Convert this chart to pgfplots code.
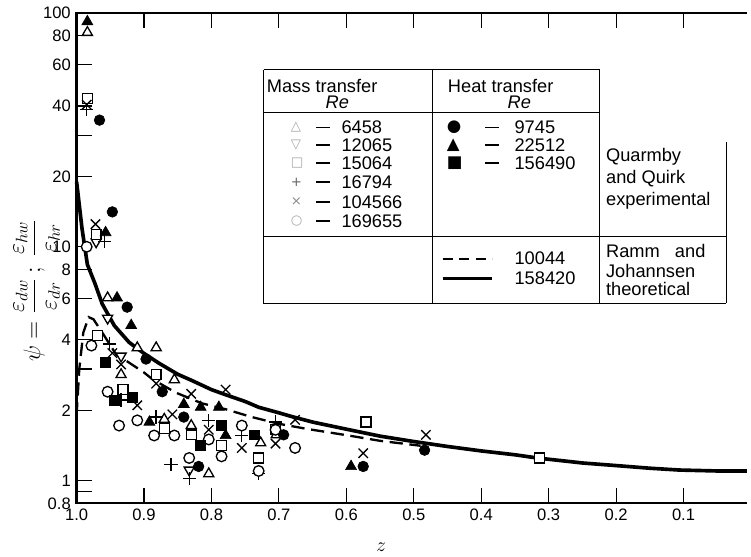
\documentclass[border=0pt]{standalone}
\usepackage{pgfplots}
\pgfplotsset{compat=1.18}
\usepackage{fontspec}
\setmainfont{Liberation Sans}
\newfontfamily\symfont{DejaVu Sans}

% scatter data (z, psi), one table per Re
\pgfplotstableread{
z psi
0.984 82.5
0.954 6.05
0.910 3.70
0.882 3.70
0.855 2.70
0.934 2.84
0.870 1.83
0.830 1.72
0.804 1.07
0.727 1.45
0.704 1.57
}\mtA
\pgfplotstableread{
z psi
0.971 10.5
0.954 4.95
0.934 3.41
0.833 1.11
}\mtB
\pgfplotstableread{
z psi
0.984 43.0
0.971 11.3
0.969 4.17
0.882 2.84
0.931 2.45
0.870 1.67
0.830 1.57
0.785 1.41
0.730 1.25
0.705 1.65
0.571 1.78
0.314 1.25
}\mtC
\pgfplotstableread{
z psi
0.985 38.7
0.959 10.5
0.951 3.84
0.934 2.21
0.882 1.87
0.860 1.17
0.833 1.02
0.804 1.81
0.755 1.56
0.705 1.78
0.730 1.07
}\mtD
\pgfplotstableread{
z psi
0.985 40.5
0.972 12.5
0.947 3.51
0.934 3.14
0.882 2.60
0.910 2.10
0.858 1.92
0.830 2.35
0.804 1.65
0.755 1.38
0.705 1.44
0.676 1.82
0.779 2.45
0.482 1.57
0.575 1.31
}\mtE
\pgfplotstableread{
z psi
0.985 10.0
0.978 3.78
0.954 2.40
0.937 1.72
0.910 1.81
0.885 1.56
0.855 1.56
0.804 1.50
0.833 1.25
0.785 1.27
0.755 1.72
0.730 1.10
0.705 1.65
0.676 1.38
}\mtF
\pgfplotstableread{
z psi
0.966 34.8
0.947 14.1
0.925 5.52
0.897 3.31
0.873 2.40
0.841 1.87
0.819 1.15
0.693 1.57
0.484 1.35
0.575 1.15
}\htA
\pgfplotstableread{
z psi
0.984 91.8
0.957 11.5
0.940 6.05
0.919 4.61
0.892 1.78
0.841 2.12
0.816 2.06
0.789 2.06
0.779 1.56
0.593 1.15
}\htB
\pgfplotstableread{
z psi
0.957 3.21
0.944 2.21
0.917 2.27
0.816 1.41
0.786 1.72
0.737 1.57
}\htC

\begin{document}
\begin{tikzpicture}
% pixel frame of the reference: (px,py), origin top left
\begin{scope}[x=0.6pt,y=-0.6pt,shift={(-46.2pt,303.6pt)}]
\useasboundingbox (0,0) rectangle (751,559);
\end{scope}

\begin{axis}[
  at={(0,0)}, anchor=south west,
  scale only axis, width=406.8pt, height=295.8pt,
  x dir=reverse, xmin=0, xmax=1,
  ymode=log, ymin=0.8, ymax=100,
  axis line style={draw=none},
  xtick pos=both, ytick pos=left,
  xtick={0.1,0.2,0.3,0.4,0.5,0.6,0.7,0.8,0.9,1.0},
  xticklabels={0.1,0.2,0.3,0.4,0.5,0.6,0.7,0.8,0.9,1.0},
  ytick={0.8,1,2,4,6,8,10,20,40,60,80,100},
  yticklabels={0.8,1,2,4,6,8,10,20,40,60,80,100},
  extra y ticks={0.9,3,30}, extra y tick labels={},
  minor ytick={},
  major tick length=9pt,
  major tick style={draw=black, line width=0.7pt},
  tick label style={font=\fontsize{10}{11}\selectfont},
  /pgf/number format/assume math mode=true,
  clip=false,
]
  \addplot[line width=2.2pt] coordinates {
    (1.0,19) (0.992,12) (0.984,8.4) (0.973,7.0) (0.962,5.7) (0.944,4.6)
    (0.922,3.9) (0.90,3.5) (0.878,3.18) (0.85,2.85) (0.829,2.68) (0.80,2.45)
    (0.779,2.33) (0.75,2.18) (0.73,2.06) (0.70,1.95) (0.681,1.88) (0.65,1.78)
    (0.60,1.66) (0.55,1.55) (0.50,1.47) (0.45,1.40) (0.40,1.34) (0.35,1.29)
    (0.317,1.25) (0.25,1.19) (0.20,1.16) (0.15,1.13) (0.106,1.11) (0.05,1.10)
    (0.006,1.10)};
  \addplot[line width=1.4pt, dash pattern=on 8pt off 4pt] coordinates {
    (1.0,1.9) (0.996,3.0) (0.99,4.3) (0.982,5.0) (0.975,4.9) (0.962,4.3)
    (0.941,3.45) (0.926,3.25) (0.90,2.9) (0.888,2.72) (0.853,2.38) (0.814,2.14)
    (0.779,2.02) (0.74,1.87) (0.70,1.75) (0.656,1.66) (0.597,1.56) (0.55,1.48)
    (0.49,1.41)};

  \addplot[only marks, mark=triangle*, mark size=3.5pt, mark options={fill=white, line width=0.8pt}] table {\mtA};
  \addplot[only marks, mark=triangle*, mark size=3.5pt, mark options={rotate=180, fill=white, line width=0.8pt}] table {\mtB};
  \addplot[only marks, mark=square*, mark size=3pt, mark options={fill=white, line width=0.8pt}] table {\mtC};
  \addplot[only marks, mark=+, mark size=4pt, mark options={line width=0.8pt}] table {\mtD};
  \addplot[only marks, mark=x, mark size=4pt, mark options={line width=0.8pt}] table {\mtE};
  \addplot[only marks, mark=*, mark size=3.2pt, mark options={fill=white, line width=0.8pt}] table {\mtF};
  \addplot[only marks, mark=*, mark size=3.2pt, fill=black] table {\htA};
  \addplot[only marks, mark=triangle*, mark size=3.8pt, fill=black] table {\htB};
  \addplot[only marks, mark=square*, mark size=3pt, fill=black] table {\htC};
\end{axis}

\begin{scope}[x=0.6pt,y=-0.6pt,shift={(-46.2pt,303.6pt)}]
  % frame: left, bottom, top (no right edge)
  \draw[line width=1.4pt] (751,13) -- (77,13) -- (77,506) -- (751,506);
  % axis labels
  \node[rotate=90] at (37,292) {\fontsize{14}{16}\selectfont
    $\psi = \displaystyle\frac{\varepsilon_{dw}}{\varepsilon_{dr}}\,;\ \frac{\varepsilon_{hw}}{\varepsilon_{hr}}$};
  \node at (383,550) {\fontsize{13}{15}\selectfont $z$};

  % legend table
  \begin{scope}[line width=0.5pt]
    \draw (265,70) -- (603,70);
    \draw (265,70) -- (265,305) -- (730,305);
    \draw (435,70) -- (435,305);
    \draw (603,70) -- (603,305);
    \draw (730,143) -- (730,305);
    \draw (265,113) -- (603,113);
    \draw (265,238) -- (730,238);
  \end{scope}
  \begin{scope}[every node/.style={anchor=west, inner sep=0pt, font=\fontsize{11}{13}\selectfont}]
    \node at (268,86) {Mass transfer};
    \node at (327,103) {\textit{Re}};
    \node at (450,86) {Heat transfer};
    \node at (510,103) {\textit{Re}};
    % mass transfer rows
    \node[text=black!35] at (292,128) {\symfont\fontsize{8}{9}\selectfont △};
    \node[text=black!35] at (292,146) {\symfont\fontsize{8}{9}\selectfont ▽};
    \node[text=black!35] at (292,164) {\symfont\fontsize{8}{9}\selectfont □};
    \node[text=black!60] at (292,183) {\symfont\fontsize{8}{9}\selectfont +};
    \node[text=black!45] at (292,203) {\symfont\fontsize{8}{9}\selectfont ×};
    \node[text=black!35] at (292,222) {\symfont\fontsize{8}{9}\selectfont ○};
    \foreach \yy/\re in {128/6458,146/12065,164/15064,183/16794,203/104566,222/169655}{
      \draw[line width=0.9pt] (318,\yy) -- (332,\yy);
      \node at (343,\yy) {\re};
    }
    % heat transfer rows
    \node at (449,128) {\symfont\fontsize{10}{11}\selectfont ●};
    \node at (449,146) {\symfont\fontsize{10}{11}\selectfont ▲};
    \node at (449,164) {\symfont\fontsize{10}{11}\selectfont ■};
    \foreach \yy/\re in {128/9745,146/22512,164/156490}{
      \draw[line width=0.9pt] (488,\yy) -- (502,\yy);
      \node at (517,\yy) {\re};
    }
    \node at (609,158) {Quarmby};
    \node at (609,180) {and Quirk};
    \node at (609,202) {experimental};
    % theory rows
    \draw[line width=1.1pt, dash pattern=on 6pt off 4pt] (445,260) -- (495,260);
    \draw[line width=1.6pt] (445,280) -- (495,280);
    \node at (517,260) {10044};
    \node at (517,280) {158420};
    \node at (609,252) {Ramm\ \ \ and};
    \node at (609,272) {Johannsen};
    \node at (609,291) {theoretical};
  \end{scope}
\end{scope}
\end{tikzpicture}
\end{document}
